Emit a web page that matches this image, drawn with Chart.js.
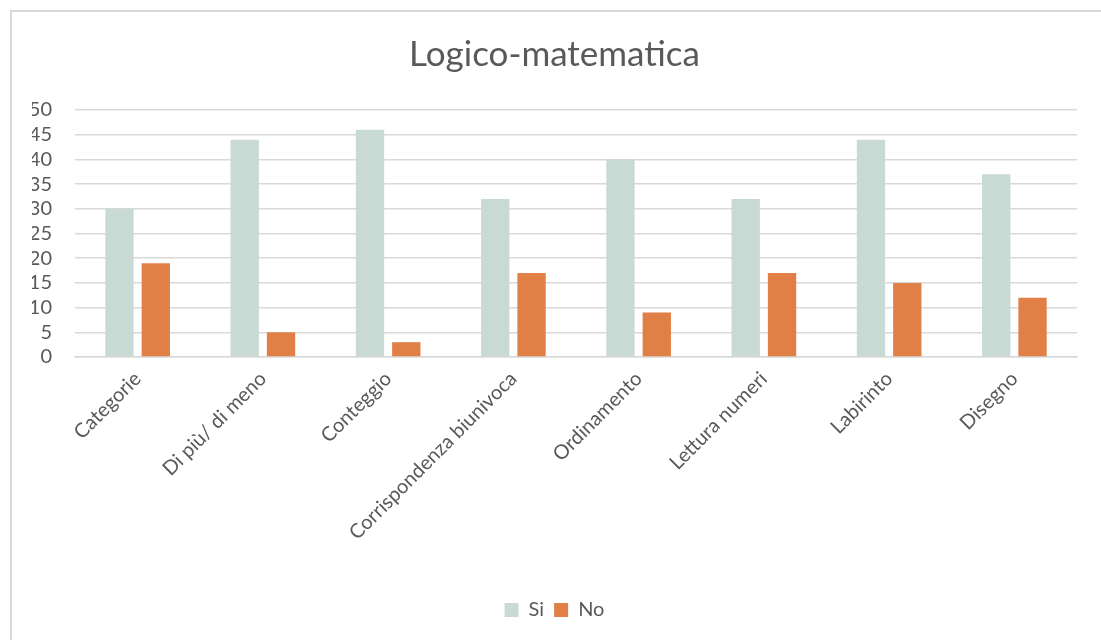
<!DOCTYPE html>
<html>
<head>
<meta charset="utf-8">
<script src="https://cdn.jsdelivr.net/npm/chart.js@4/dist/chart.umd.min.js"></script>
<style>
  html, body { margin: 0; padding: 0; background: #ffffff; }
  #box {
    position: absolute;
    left: 10px;
    top: 10px;
    width: 1091px;
    height: 630px;
    border-top: 2px solid #d9d9d9;
    border-left: 2px solid #d9d9d9;
    box-sizing: border-box;
  }
</style>
</head>
<body>
<div id="box"><canvas id="chart"></canvas></div>
<script>
// Categories on the x axis
const categories = [
  "Categorie",
  "Di più/ di meno",
  "Conteggio",
  "Corrispondenza biunivoca",
  "Ordinamento",
  "Lettura numeri",
  "Labirinto",
  "Disegno",
];

// Series values
const siValues = [30, 44, 46, 32, 40, 32, 44, 37];
const noValues = [19, 5, 3, 17, 9, 17, 15, 12];

const textColor = "#595959";
const gridColor = "#d9d9d9";
const fontFamily = "Lato";

let myChart = new Chart(document.getElementById("chart"), {
  type: "bar",
  data: {
    labels: categories,
    datasets: [
      {
        label: "Si",
        data: siValues,
        backgroundColor: "#c9dad5",
        categoryPercentage: 0.58,
        barPercentage: 0.78,
      },
      {
        label: "No",
        data: noValues,
        backgroundColor: "#e07f46",
        categoryPercentage: 0.58,
        barPercentage: 0.78,
      },
    ],
  },
  options: {
    responsive: true,
    maintainAspectRatio: false,
    animation: false,
    layout: { padding: { left: 20, right: 24, top: 0, bottom: 10 } },
    plugins: {
      tooltip: false,
      title: {
        display: true,
        text: "Logico-matematica",
        color: textColor,
        font: { family: fontFamily, size: 35, weight: "normal" },
        padding: { top: 22, bottom: 34 },
      },
      legend: {
        position: "bottom",
        labels: {
          color: textColor,
          font: { family: fontFamily, size: 20 },
          boxWidth: 14,
          boxHeight: 14,
          padding: 10,
        },
      },
    },
    scales: {
      x: {
        grid: { display: false },
        border: { color: gridColor, width: 1.5 },
        ticks: {
          color: textColor,
          font: { family: fontFamily, size: 20 },
          minRotation: 45,
          maxRotation: 45,
          padding: 2,
        },
        // fixed room for the rotated labels, no side padding from them
        afterFit: (scale) => {
          scale.height = 233;
          scale.paddingLeft = 0;
          scale.paddingRight = 0;
        },
      },
      y: {
        min: 0,
        max: 50,
        ticks: {
          stepSize: 5,
          autoSkip: false,
          color: textColor,
          font: { family: fontFamily, size: 20 },
          padding: 23,
        },
        grid: { color: gridColor, lineWidth: 1.5, drawTicks: false },
        border: { display: false },
        afterFit: (scale) => {
          scale.width = 43;
        },
      },
    },
  },
});
</script>
</body>
</html>
